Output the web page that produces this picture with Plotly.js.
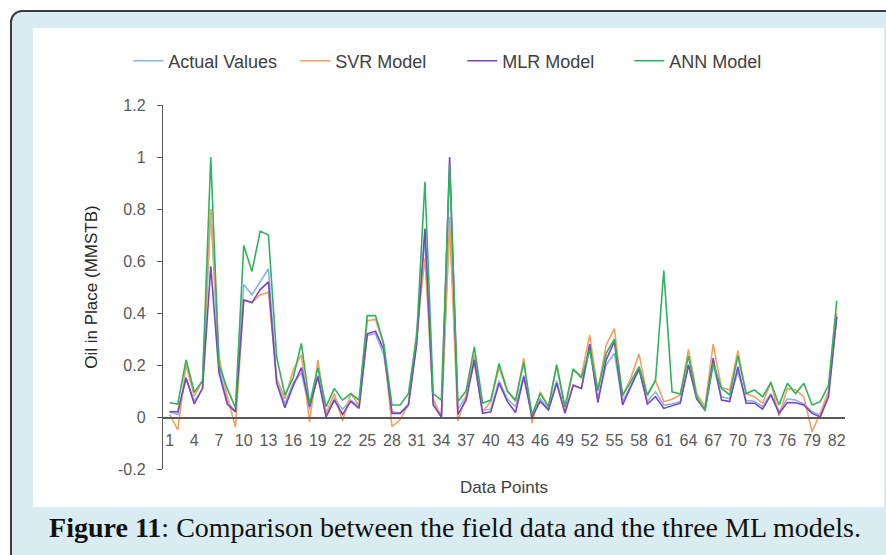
<!DOCTYPE html>
<html>
<head>
<meta charset="utf-8">
<script src="https://cdn.plot.ly/plotly-3.0.1.min.js"></script>
<style>
  html, body { margin:0; padding:0; background:#ffffff; width:886px; height:555px; overflow:hidden; }
  #frame { position:absolute; left:10px; top:10px; width:890px; height:560px; box-sizing:border-box;
           border:2px solid #3c3c3c; border-radius:12px; background:#d8ecf2; }
  #plot { position:absolute; left:33px; top:28px; width:851px; height:479px; background:#ffffff; }
  #caption { position:absolute; left:0px; top:512px; width:910px; text-align:center;
             font-family:"Liberation Serif","DejaVu Serif",serif; font-size:28px; color:#111; }
</style>
</head>
<body>
<div id="frame"></div>
<div id="plot"></div>
<div id="caption"><b>Figure 11</b>: Comparison between the field data and the three ML models.</div>
<script>
const seriesNames = ["Actual Values", "SVR Model", "MLR Model", "ANN Model"];
const dataPoints = Array.from({length: 82}, (_, i) => i + 1);
const tickLabels = dataPoints.filter(p => (p - 1) % 3 === 0);

const actualValues = [0.02,0.01,0.15,0.06,0.11,0.80,0.19,0.06,0.02,0.51,
  0.47,0.52,0.57,0.14,0.05,0.13,0.17,0.03,0.16,0.01,
  0.07,0.03,0.065,0.04,0.315,0.32,0.24,0.02,0.015,0.05,
  0.29,0.69,0.06,0.0,0.77,0.03,0.08,0.21,0.027,0.03,
  0.14,0.07,0.04,0.16,0.005,0.07,0.03,0.14,0.02,0.12,
  0.11,0.26,0.07,0.2,0.245,0.06,0.12,0.18,0.06,0.097,
  0.046,0.05,0.06,0.2,0.07,0.03,0.2,0.078,0.07,0.174,
  0.063,0.06,0.04,0.09,0.02,0.07,0.065,0.05,0.02,0.008,
  0.097,0.39];
const svrValues = [0.01,-0.05,0.2,0.08,0.14,0.8,0.23,0.08,-0.04,0.45,
  0.44,0.47,0.48,0.15,0.07,0.18,0.24,-0.02,0.22,0.015,
  0.09,-0.015,0.09,0.045,0.37,0.375,0.28,-0.037,-0.01,0.05,
  0.33,0.61,0.07,0.0,0.74,-0.015,0.08,0.24,0.02,0.06,
  0.19,0.1,0.06,0.226,-0.024,0.097,0.04,0.2,0.027,0.18,
  0.16,0.315,0.1,0.277,0.34,0.078,0.15,0.242,0.08,0.14,
  0.059,0.068,0.085,0.26,0.09,0.04,0.28,0.113,0.104,0.255,
  0.09,0.078,0.053,0.136,0.004,0.11,0.104,0.078,-0.056,0.014,
  0.1,0.4];
const mlrValues = [0.02,0.02,0.15,0.05,0.11,0.58,0.17,0.05,0.02,0.45,
  0.44,0.49,0.52,0.13,0.036,0.12,0.19,0.04,0.155,0.0,
  0.065,0.01,0.06,0.033,0.32,0.33,0.26,0.014,0.014,0.046,
  0.28,0.725,0.046,0.0,1.0,0.01,0.065,0.22,0.014,0.02,
  0.13,0.06,0.017,0.155,0.0,0.06,0.027,0.13,0.014,0.123,
  0.11,0.28,0.055,0.22,0.29,0.046,0.117,0.187,0.05,0.078,
  0.033,0.042,0.053,0.2,0.07,0.027,0.226,0.065,0.059,0.194,
  0.053,0.053,0.03,0.085,0.014,0.056,0.055,0.046,0.014,0.0,
  0.078,0.385];
const annValues = [0.055,0.05,0.22,0.095,0.14,1.0,0.2,0.11,0.035,0.66,
  0.56,0.715,0.70,0.23,0.085,0.15,0.283,0.05,0.19,0.04,
  0.11,0.065,0.09,0.065,0.39,0.39,0.28,0.046,0.046,0.09,
  0.31,0.905,0.09,0.065,0.97,0.06,0.1,0.27,0.053,0.065,
  0.206,0.1,0.065,0.21,0.008,0.09,0.04,0.2,0.04,0.185,
  0.15,0.26,0.104,0.245,0.30,0.085,0.136,0.194,0.085,0.142,
  0.563,0.097,0.088,0.235,0.078,0.024,0.206,0.11,0.085,0.235,
  0.09,0.104,0.078,0.132,0.046,0.13,0.09,0.13,0.046,0.059,
  0.123,0.447];

const colors = ["#86b4e6", "#f4a05e", "#7b45c0", "#2eb35e"];
const allValues = [actualValues, svrValues, mlrValues, annValues];

const traces = allValues.map((vals, k) => ({
  x: dataPoints, y: vals, type: "scatter", mode: "lines", name: seriesNames[k],
  line: { color: colors[k], width: 1.6 }
}));

const font = { family: "Liberation Sans, Arial, sans-serif", color: "#595959", size: 16 };
const layout = {
  width: 851, height: 479,
  margin: { l: 130, r: 39, t: 77, b: 38, autoexpand: false },
  paper_bgcolor: "#ffffff", plot_bgcolor: "#ffffff",
  font: font,
  showlegend: true,
  legend: { orientation: "h", xref: "container", x: 0.112, xanchor: "left", yref: "container", y: 0.931, yanchor: "middle",
            font: { family: "Liberation Sans, Arial, sans-serif", size: 18, color: "#404040" },
            traceorder: "normal", itemwidth: 30, entrywidth: 122 },
  xaxis: {
    range: [0.2, 83.0], anchor: "free", position: 0.2 / 1.4,
    tickmode: "array", tickvals: tickLabels, ticktext: tickLabels.map(String),
    showline: true, linecolor: "#595959", linewidth: 1.5, ticks: "", ticklabelstandoff: 8,
    showgrid: false, zeroline: false, tickfont: font,
    title: { text: "Data Points", standoff: 33, font: { family: "Liberation Sans, Arial, sans-serif", size: 17, color: "#404040" } }
  },
  yaxis: {
    range: [-0.2, 1.2], tickmode: "array", tickvals: [-0.2, 0, 0.2, 0.4, 0.6, 0.8, 1, 1.2],
    ticktext: ["-0.2", "0", "0.2", "0.4", "0.6", "0.8", "1", "1.2"],
    showline: true, linecolor: "#595959", linewidth: 1.2, ticks: "outside", ticklen: 5, tickcolor: "#595959",
    ticklabelstandoff: 8,
    showgrid: false, zeroline: false, tickfont: font,
    title: { text: "Oil in Place (MMSTB)", standoff: 16, font: { family: "Liberation Sans, Arial, sans-serif", size: 17, color: "#262626" } }
  }
};

Plotly.newPlot("plot", traces, layout, { displayModeBar: false, staticPlot: true });
</script>
</body>
</html>
